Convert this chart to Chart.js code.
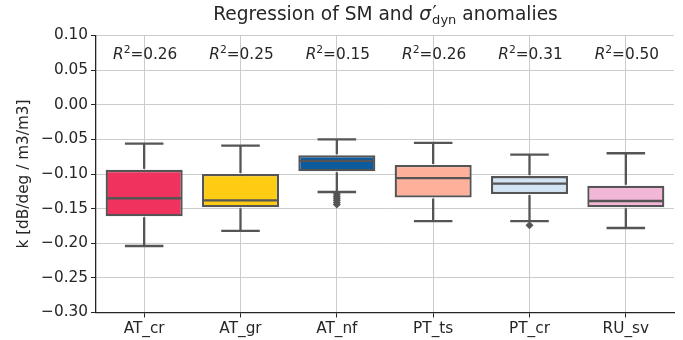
<!DOCTYPE html>
<html>
<head>
<meta charset="utf-8">
<script src="https://cdn.jsdelivr.net/npm/chart.js@4.4.1/dist/chart.umd.min.js"></script>
<style>
  html, body { margin: 0; padding: 0; background: #fff; }
  #wrap { width: 683px; height: 340px; }
</style>
</head>
<body>
<div id="wrap"><canvas id="chart" width="683" height="340"></canvas></div>
<script>
// Box statistics per site (k values)
const sites = ['AT_cr', 'AT_gr', 'AT_nf', 'PT_ts', 'PT_cr', 'RU_sv'];
const whiskerLow = [-0.204, -0.182, -0.126, -0.168, -0.168, -0.178];
const q1 = [-0.161, -0.148, -0.096, -0.134, -0.129, -0.148];
const median = [-0.135, -0.138, -0.081, -0.106, -0.114, -0.139];
const q3 = [-0.094, -0.100, -0.073, -0.087, -0.103, -0.117];
const whiskerHigh = [-0.056, -0.059, -0.050, -0.055, -0.072, -0.070];
const rSquared = [0.26, 0.25, 0.15, 0.26, 0.31, 0.50];

// Fliers beyond the whiskers
const outlierSite = ['AT_nf', 'AT_nf', 'AT_nf', 'AT_nf', 'AT_nf', 'AT_nf', 'PT_cr'];
const outlierValue = [-0.129, -0.132, -0.135, -0.138, -0.141, -0.144, -0.174];

const yTicks = [0.10, 0.05, 0.00, -0.05, -0.10, -0.15, -0.20, -0.25, -0.30];

const boxColors = ['#EF325E', '#FFCC14', '#0B5B9E', '#FFB09A', '#D3E4F4', '#F2B6D6'];
const edgeColor = '#555555';
const textColor = '#262626';
const FONT = '"DejaVu Sans", sans-serif';
const labelSize = 15.3;

function fmtTick(v) {
    const s = Math.abs(v) < 1e-9 ? '0.00' : v.toFixed(2);
    return s.replace('-', '\u2212');
}

// whiskers, caps and median lines on top of the floating bars
const boxPlotMarks = {
    id: 'boxPlotMarks',
    afterDatasetsDraw(chart) {
        const { ctx, scales: { x, y } } = chart;
        const bars = chart.getDatasetMeta(0).data;
        const seg = (x1, y1, x2, y2) => {
            ctx.beginPath();
            ctx.moveTo(x1, y1);
            ctx.lineTo(x2, y2);
            ctx.stroke();
        };
        ctx.save();
        ctx.strokeStyle = edgeColor;
        ctx.lineWidth = 2.3;
        sites.forEach((s, i) => {
            const cx = x.getPixelForValue(i);
            const half = bars[i].width / 2;
            const cap = half / 2;
            const yHi = y.getPixelForValue(whiskerHigh[i]);
            const yLo = y.getPixelForValue(whiskerLow[i]);
            seg(cx, y.getPixelForValue(q3[i]) - 1, cx, yHi);
            seg(cx, y.getPixelForValue(q1[i]) + 1, cx, yLo);
            seg(cx - cap, yHi, cx + cap, yHi);
            seg(cx - cap, yLo, cx + cap, yLo);
            const ym = y.getPixelForValue(median[i]);
            seg(cx - half + 1, ym, cx + half - 1, ym);
        });
        ctx.restore();
    }
};

// title with sigma prime/subscript and the R^2 annotations
const textMarks = {
    id: 'textMarks',
    afterDraw(chart) {
        const { ctx, chartArea, scales: { x } } = chart;
        ctx.save();
        ctx.fillStyle = textColor;
        ctx.textBaseline = 'alphabetic';
        ctx.textAlign = 'left';

        // title
        const tSize = 18.6;
        const parts = [
            { t: 'Regression of SM and ', f: `${tSize}px ${FONT}`, dy: 0, adv: true, dx: 0 },
            { t: '\u03C3', f: `italic ${tSize}px ${FONT}`, dy: 0, adv: true, dx: 0 },
            { t: '\u2032', f: `${tSize}px ${FONT}`, dy: -1, adv: false, dx: 1.5 },
            { t: 'dyn', f: `${tSize * 0.7}px ${FONT}`, dy: 4.5, adv: true, dx: 1 },
            { t: ' anomalies', f: `${tSize}px ${FONT}`, dy: 0, adv: true, dx: 1 }
        ];
        let total = 0;
        parts.forEach(p => {
            ctx.font = p.f;
            p.w = ctx.measureText(p.t).width;
            if (p.adv) total += p.w;
        });
        let tx = (chartArea.left + chartArea.right) / 2 - total / 2;
        const tBase = 19.5;
        parts.forEach(p => {
            ctx.font = p.f;
            ctx.fillText(p.t, tx + p.dx, tBase + p.dy);
            if (p.adv) tx += p.w;
        });

        // R^2 labels
        rSquared.forEach((r, i) => {
            const pieces = [
                { t: 'R', f: `italic ${labelSize}px ${FONT}`, dy: 0 },
                { t: '2', f: `${labelSize * 0.7}px ${FONT}`, dy: -6 },
                { t: '=' + r.toFixed(2), f: `${labelSize}px ${FONT}`, dy: 0 }
            ];
            let w = 0;
            pieces.forEach(p => { ctx.font = p.f; p.w = ctx.measureText(p.t).width; w += p.w; });
            let px = x.getPixelForValue(i) - w / 2 + 1;
            pieces.forEach(p => {
                ctx.font = p.f;
                ctx.fillText(p.t, px, 59 + p.dy);
                px += p.w;
            });
        });
        ctx.restore();
    }
};

const ctx = document.getElementById('chart');
new Chart(ctx, {
    type: 'bar',
    data: {
        labels: sites,
        datasets: [
            {
                label: 'IQR',
                data: sites.map((s, i) => [q1[i], q3[i]]),
                backgroundColor: boxColors,
                borderColor: edgeColor,
                borderWidth: 2.3,
                borderSkipped: false,
                barPercentage: 0.8,
                categoryPercentage: 1.0,
                order: 2
            },
            {
                type: 'line',
                label: 'fliers',
                data: outlierSite.map((s, i) => ({ x: s, y: outlierValue[i] })),
                showLine: false,
                pointStyle: 'rectRot',
                pointRadius: 4,
                pointBackgroundColor: edgeColor,
                pointBorderWidth: 0,
                order: 1
            }
        ]
    },
    options: {
        responsive: false,
        animation: false,
        devicePixelRatio: 1,
        layout: { padding: { top: 35.5, right: 9, left: 0, bottom: 0 } },
        plugins: {
            legend: { display: false },
            tooltip: { enabled: false },
            title: { display: false }
        },
        scales: {
            x: {
                afterFit: s => { s.height = 27.5; },
                grid: {
                    offset: false,
                    color: '#cccccc',
                    lineWidth: 1,
                    tickColor: textColor,
                    tickLength: 5
                },
                border: { color: textColor, width: 1.3 },
                ticks: {
                    color: textColor,
                    padding: 2,
                    font: { family: FONT, size: labelSize }
                }
            },
            y: {
                min: -0.30,
                max: 0.10,
                afterFit: s => { s.width = 96; },
                afterBuildTicks: s => { s.ticks = yTicks.map(v => ({ value: v })); },
                grid: {
                    color: '#cccccc',
                    lineWidth: 1,
                    tickColor: textColor,
                    tickLength: 5
                },
                border: { color: textColor, width: 1.3 },
                ticks: {
                    color: textColor,
                    padding: 3,
                    font: { family: FONT, size: labelSize },
                    callback: v => fmtTick(v)
                },
                title: {
                    display: true,
                    text: 'k [dB/deg / m3/m3]',
                    color: textColor,
                    font: { family: FONT, size: labelSize },
                    padding: { top: 15, bottom: 0 }
                }
            }
        }
    },
    plugins: [boxPlotMarks, textMarks]
});
</script>
</body>
</html>
